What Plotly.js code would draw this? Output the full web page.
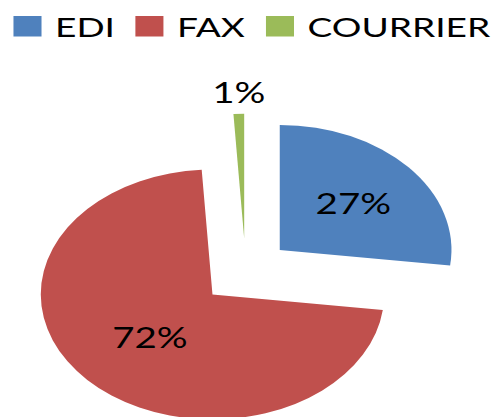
<!DOCTYPE html>
<html>
<head>
<meta charset="utf-8">
<script src="https://cdn.plot.ly/plotly-3.0.1.min.js"></script>
<style>
  html, body { margin: 0; padding: 0; background: #fff; overflow: hidden; }
  #wrap { width: 499px; height: 417px; overflow: hidden; position: relative; }
  #plot { width: 363px; height: 440px; transform: scaleX(1.3747); transform-origin: 0 0; }
</style>
</head>
<body>
<div id="wrap"><div id="plot"></div></div>
<script>
// Data
const categories = ['EDI', 'FAX', 'COURRIER'];
const shares = [27, 72, 1];
const sliceColors = ['#4F81BD', '#C0504D', '#9BBB59'];

const STRETCH = 1.3747;

const trace = {
  type: 'pie',
  labels: categories,
  values: shares,
  sort: false,
  direction: 'clockwise',
  rotation: 0,
  pull: 0.265,
  marker: { colors: sliceColors, line: { width: 0 } },
  textinfo: 'percent',
  textposition: ['inside', 'inside', 'outside'],
  insidetextorientation: 'horizontal',
  textfont: { family: 'Lato, Carlito, sans-serif', size: 28, color: '#000' },
  hoverinfo: 'none',
  domain: { x: [0.057, 0.9275], y: [0.0232, 0.7414] }
};

const layout = {
  width: 363,
  height: 440,
  margin: { l: 0, r: 0, t: 0, b: 0 },
  paper_bgcolor: '#fff',
  showlegend: true,
  legend: {
    orientation: 'h',
    x: 0, xanchor: 'left',
    y: 0.995, yanchor: 'top',
    font: { family: 'Lato, Carlito, sans-serif', size: 27, color: '#000' },
    traceorder: 'normal'
  },
  font: { family: 'Lato, Carlito, sans-serif' }
};

Plotly.newPlot('plot', [trace], layout, { staticPlot: true, displayModeBar: false }).then(function () {
  // enlarge legend keys
  document.querySelectorAll('.legendpoints path').forEach(function (p) {
    var t = p.getAttribute('transform') || '';
    p.setAttribute('transform', t + ' scale(1.7)');
  });
  // centre the small outside label over its slice
  var slices = document.querySelectorAll('g.slice');
  slices.forEach(function (s, i) {
    if (trace.textposition[i] !== 'outside') return;
    var path = s.querySelector('path.surface');
    var txt = s.querySelector('text');
    if (!path || !txt) return;
    var pr = path.getBoundingClientRect();
    var tr = txt.getBoundingClientRect();
    var dx = ((pr.left + pr.right) / 2 - (tr.left + tr.right) / 2) / STRETCH;
    var dy = (pr.top - 22) - (tr.top + tr.bottom) / 2;
    var t = txt.getAttribute('transform') || '';
    txt.setAttribute('transform', 'translate(' + dx + ',' + dy + ') ' + t);
  });
});
</script>
</body>
</html>
